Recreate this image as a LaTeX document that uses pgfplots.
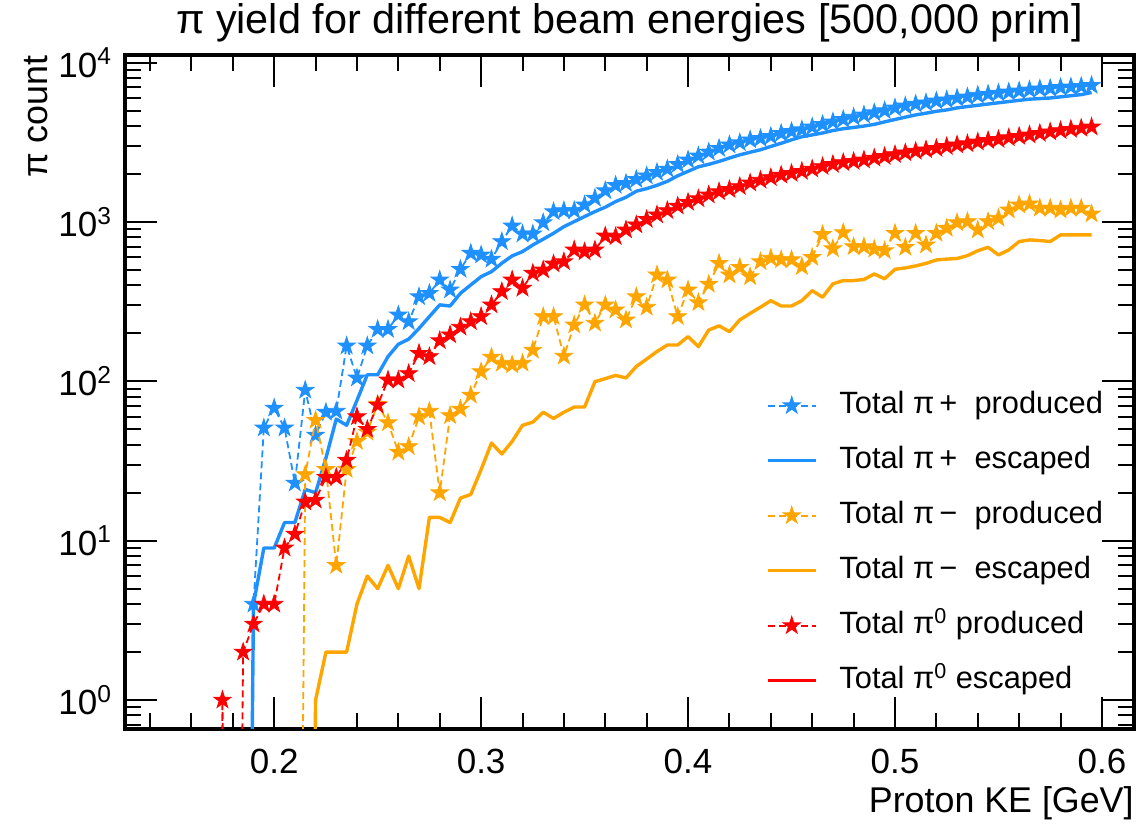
\documentclass[border=0pt]{standalone}
\usepackage{fontspec}
\setmainfont{Liberation Sans}
\usepackage{pgfplots}
\pgfplotsset{compat=1.18}
\definecolor{cblue}{HTML}{1E90FF}
\definecolor{corange}{HTML}{FFA500}
\definecolor{cred}{HTML}{FF0000}
\pgfdeclareplotmark{fstar}{%
  \pgfpathmoveto{\pgfpointpolar{90}{\pgfplotmarksize}}%
  \pgfpathlineto{\pgfpointpolar{126}{0.382\pgfplotmarksize}}%
  \pgfpathlineto{\pgfpointpolar{162}{\pgfplotmarksize}}%
  \pgfpathlineto{\pgfpointpolar{198}{0.382\pgfplotmarksize}}%
  \pgfpathlineto{\pgfpointpolar{234}{\pgfplotmarksize}}%
  \pgfpathlineto{\pgfpointpolar{270}{0.382\pgfplotmarksize}}%
  \pgfpathlineto{\pgfpointpolar{306}{\pgfplotmarksize}}%
  \pgfpathlineto{\pgfpointpolar{342}{0.382\pgfplotmarksize}}%
  \pgfpathlineto{\pgfpointpolar{18}{\pgfplotmarksize}}%
  \pgfpathlineto{\pgfpointpolar{54}{0.382\pgfplotmarksize}}%
  \pgfpathclose
  \pgfusepathqfillstroke}
\pgfplotsset{
  prod/.style={color=#1, line width=0.9pt, dash pattern=on 3.5pt off 2pt,
    mark=fstar, mark size=4.6pt, mark options={solid, fill=#1, draw=#1, line width=0.4pt}},
  esc/.style={color=#1, line width=1.7pt, no markers, line join=round}
}
\begin{document}
\begin{tikzpicture}
\path[use as bounding box] (-62.5pt,-48pt) rectangle (506pt,364.5pt);
\begin{axis}[
  at={(0,0)}, anchor=south west,
  scale only axis, width=504.5pt, height=337pt,
  ymode=log,
  xmin=0.1279, xmax=0.6155, ymin=0.658, ymax=11170,
  xtick={0.2,0.3,0.4,0.5,0.6}, xticklabels={0.2,0.3,0.4,0.5,0.6},
  minor xtick={0.14,0.16,0.18,0.22,0.24,0.26,0.28,0.32,0.34,0.36,0.38,0.42,0.44,0.46,0.48,0.52,0.54,0.56,0.58},
  ytick={1,10,100,1000,10000},
  yticklabels={10\textsuperscript{0},10\textsuperscript{1},10\textsuperscript{2},10\textsuperscript{3},10\textsuperscript{4}},
  minor ytick={0.7,0.8,0.9,2,3,4,5,6,7,8,9,20,30,40,50,60,70,80,90,200,300,400,500,600,700,800,900,2000,3000,4000,5000,6000,7000,8000,9000},
  tick align=inside, tick pos=both,
  major tick length=16pt, minor tick length=8pt,
  every tick/.style={black, line width=1pt},
  axis line style={line width=2.4pt},
  tick label style={font=\fontsize{17.5}{20}\selectfont},
  xticklabel style={yshift=-6.5pt},
  yticklabel style={xshift=-3pt},
  title={π yield for different beam energies [500,000 prim]},
  title style={font=\fontsize{20.7}{24}\selectfont, at={(axis description cs:0.5,1)}, anchor=base, yshift=4.5pt},
  xlabel={Proton KE [GeV]},
  xlabel style={font=\fontsize{17.9}{20}\selectfont, at={(axis description cs:1,0)}, anchor=base east, inner sep=0pt, yshift=-42pt},
  ylabel={π count},
  ylabel style={font=\fontsize{17.9}{20}\selectfont, at={(axis description cs:0,1)}, anchor=base east, inner sep=0pt, yshift=38.5pt},
  clip marker paths=true,
  legend style={draw=none, fill=none, at={(axis description cs:0.629,0.51)}, anchor=north west,
    font=\fontsize{15.4}{18}\selectfont, row sep=11.5pt,
    nodes={inner sep=1pt, text height=11pt, text depth=3pt},
    /tikz/every even column/.style={column sep=0pt},
    /tikz/every odd column/.style={column sep=10pt}},
  legend cell align=left,
  legend image code/.code={\draw[mark repeat=2,mark phase=2,#1] plot coordinates {(0pt,0pt) (12pt,0pt) (24pt,0pt)};},
]
\addplot[prod=cblue] coordinates {(0.185,1e-6)(0.19,4)(0.195,51)(0.2,68)(0.205,51)(0.21,23)(0.215,88)(0.22,46)(0.225,64)(0.23,65)(0.235,167)(0.24,105)(0.245,167)(0.25,212)(0.255,212)(0.26,261)(0.265,237)(0.27,340)(0.275,357)(0.28,433)(0.285,375)(0.29,505)(0.295,637)(0.3,621)(0.305,584)(0.31,754)(0.315,945)(0.32,842)(0.325,842)(0.33,991)(0.335,1162)(0.34,1180)(0.345,1180)(0.35,1280)(0.355,1410)(0.36,1574)(0.365,1700)(0.37,1750)(0.375,1850)(0.38,1950)(0.385,2050)(0.39,2150)(0.395,2300)(0.4,2450)(0.405,2600)(0.41,2750)(0.415,2900)(0.42,3050)(0.425,3150)(0.43,3280)(0.435,3350)(0.44,3450)(0.445,3600)(0.45,3700)(0.455,3800)(0.46,3950)(0.465,4100)(0.47,4250)(0.475,4400)(0.48,4550)(0.485,4700)(0.49,4850)(0.495,5000)(0.5,5200)(0.505,5350)(0.51,5500)(0.515,5600)(0.52,5750)(0.525,5850)(0.53,6000)(0.535,6100)(0.54,6250)(0.545,6350)(0.55,6450)(0.555,6550)(0.56,6650)(0.565,6750)(0.57,6850)(0.575,6900)(0.58,7000)(0.585,7050)(0.59,7100)(0.595,7200)};
\addlegendentry{Total π\,+\ \ produced}
\addplot[esc=cblue] coordinates {(0.185,1e-6)(0.19,4)(0.195,9)(0.2,9)(0.205,13)(0.21,13)(0.215,21)(0.22,20)(0.225,33)(0.23,58)(0.235,53)(0.24,76)(0.245,110)(0.25,110)(0.255,143)(0.26,171)(0.265,184)(0.27,215)(0.275,255)(0.28,302)(0.285,297)(0.29,357)(0.295,403)(0.3,454)(0.305,488)(0.31,551)(0.315,613)(0.32,652)(0.325,718)(0.33,780)(0.335,850)(0.34,935)(0.345,1006)(0.35,1082)(0.355,1162)(0.36,1239)(0.365,1343)(0.37,1430)(0.375,1560)(0.38,1620)(0.385,1700)(0.39,1800)(0.395,1950)(0.4,2080)(0.405,2220)(0.41,2300)(0.415,2400)(0.42,2520)(0.425,2640)(0.43,2740)(0.435,2840)(0.44,2980)(0.445,3120)(0.45,3280)(0.455,3430)(0.46,3520)(0.465,3620)(0.47,3750)(0.475,3850)(0.48,3920)(0.485,4000)(0.49,4100)(0.495,4250)(0.5,4400)(0.505,4550)(0.51,4700)(0.515,4820)(0.52,4950)(0.525,5050)(0.53,5200)(0.535,5300)(0.54,5400)(0.545,5500)(0.55,5600)(0.555,5700)(0.56,5800)(0.565,5900)(0.57,5950)(0.575,6000)(0.58,6100)(0.585,6200)(0.59,6300)(0.595,6500)};
\addlegendentry{Total π\,+\ \ escaped}
\addplot[prod=corange] coordinates {(0.21,1e-6)(0.215,26)(0.22,57)(0.225,28)(0.23,7)(0.235,28)(0.24,42)(0.245,48)(0.25,72)(0.255,55)(0.26,36)(0.265,39)(0.27,60)(0.275,65)(0.28,20)(0.285,61)(0.29,67)(0.295,82)(0.3,115)(0.305,142)(0.31,130)(0.315,127)(0.32,130)(0.325,157)(0.33,255)(0.335,255)(0.34,144)(0.345,226)(0.35,302)(0.355,232)(0.36,302)(0.365,281)(0.37,243)(0.375,340)(0.38,292)(0.385,466)(0.39,433)(0.395,255)(0.4,375)(0.405,312)(0.41,407)(0.415,551)(0.42,466)(0.425,520)(0.43,454)(0.435,564)(0.44,593)(0.445,580)(0.45,580)(0.455,525)(0.46,600)(0.465,835)(0.47,680)(0.475,858)(0.48,700)(0.485,700)(0.49,675)(0.495,661)(0.5,850)(0.505,694)(0.51,850)(0.515,718)(0.52,850)(0.525,914)(0.53,991)(0.535,1006)(0.54,892)(0.545,1006)(0.55,1057)(0.555,1191)(0.56,1280)(0.565,1300)(0.57,1222)(0.575,1222)(0.58,1191)(0.585,1222)(0.59,1222)(0.595,1125)};
\addlegendentry{Total π\,−\ \ produced}
\addplot[esc=corange] coordinates {(0.215,1e-6)(0.22,1)(0.225,2)(0.23,2)(0.235,2)(0.24,4)(0.245,6)(0.25,5)(0.255,7)(0.26,5)(0.265,8)(0.27,5)(0.275,14)(0.28,14)(0.285,13)(0.29,18.5)(0.295,19.5)(0.3,28)(0.305,41)(0.31,35)(0.315,42)(0.32,53)(0.325,55.5)(0.33,64)(0.335,58.5)(0.34,64)(0.345,69)(0.35,69)(0.355,99.5)(0.36,104)(0.365,109)(0.37,105)(0.375,124)(0.38,138)(0.385,154)(0.39,169)(0.395,169)(0.4,191)(0.405,165)(0.41,210)(0.415,223)(0.42,205)(0.425,243)(0.43,267)(0.435,292)(0.44,321)(0.445,297)(0.45,297)(0.455,321)(0.46,371)(0.465,337)(0.47,409)(0.475,429)(0.48,429)(0.485,436)(0.49,472)(0.495,440)(0.5,505)(0.505,515)(0.51,530)(0.515,550)(0.52,578)(0.525,585)(0.53,590)(0.535,615)(0.54,660)(0.545,694)(0.55,621)(0.555,668)(0.56,754)(0.565,772)(0.57,765)(0.575,754)(0.58,830)(0.585,830)(0.59,830)(0.595,830)};
\addlegendentry{Total π\,−\ \ escaped}
\addplot[prod=cred] coordinates {(0.17,1e-6)(0.175,1)(0.18,1e-6)(0.185,2)(0.19,3)(0.195,4)(0.2,4)(0.205,9)(0.21,11)(0.215,17.5)(0.22,18)(0.225,25)(0.23,25)(0.235,32)(0.24,60)(0.245,50)(0.25,71)(0.255,102)(0.26,102)(0.265,112)(0.27,150)(0.275,143)(0.28,180)(0.285,196)(0.29,219)(0.295,237)(0.3,255)(0.305,302)(0.31,366)(0.315,433)(0.32,384)(0.325,477)(0.33,500)(0.335,546)(0.34,564)(0.345,668)(0.35,650)(0.355,668)(0.36,818)(0.365,810)(0.37,892)(0.375,960)(0.38,1040)(0.385,1110)(0.39,1180)(0.395,1260)(0.4,1330)(0.405,1400)(0.41,1480)(0.415,1550)(0.42,1600)(0.425,1670)(0.43,1760)(0.435,1830)(0.44,1900)(0.445,1970)(0.45,2020)(0.455,2080)(0.46,2150)(0.465,2230)(0.47,2300)(0.475,2360)(0.48,2400)(0.485,2450)(0.49,2520)(0.495,2580)(0.5,2650)(0.505,2720)(0.51,2780)(0.515,2840)(0.52,2900)(0.525,2980)(0.53,3050)(0.535,3100)(0.54,3180)(0.545,3250)(0.55,3300)(0.555,3380)(0.56,3450)(0.565,3520)(0.57,3600)(0.575,3680)(0.58,3750)(0.585,3820)(0.59,3880)(0.595,3950)};
\addlegendentry{Total π\textsuperscript{0} produced}
\addlegendimage{esc=cred}
\addlegendentry{Total π\textsuperscript{0} escaped}
\end{axis}
\end{tikzpicture}
\end{document}
